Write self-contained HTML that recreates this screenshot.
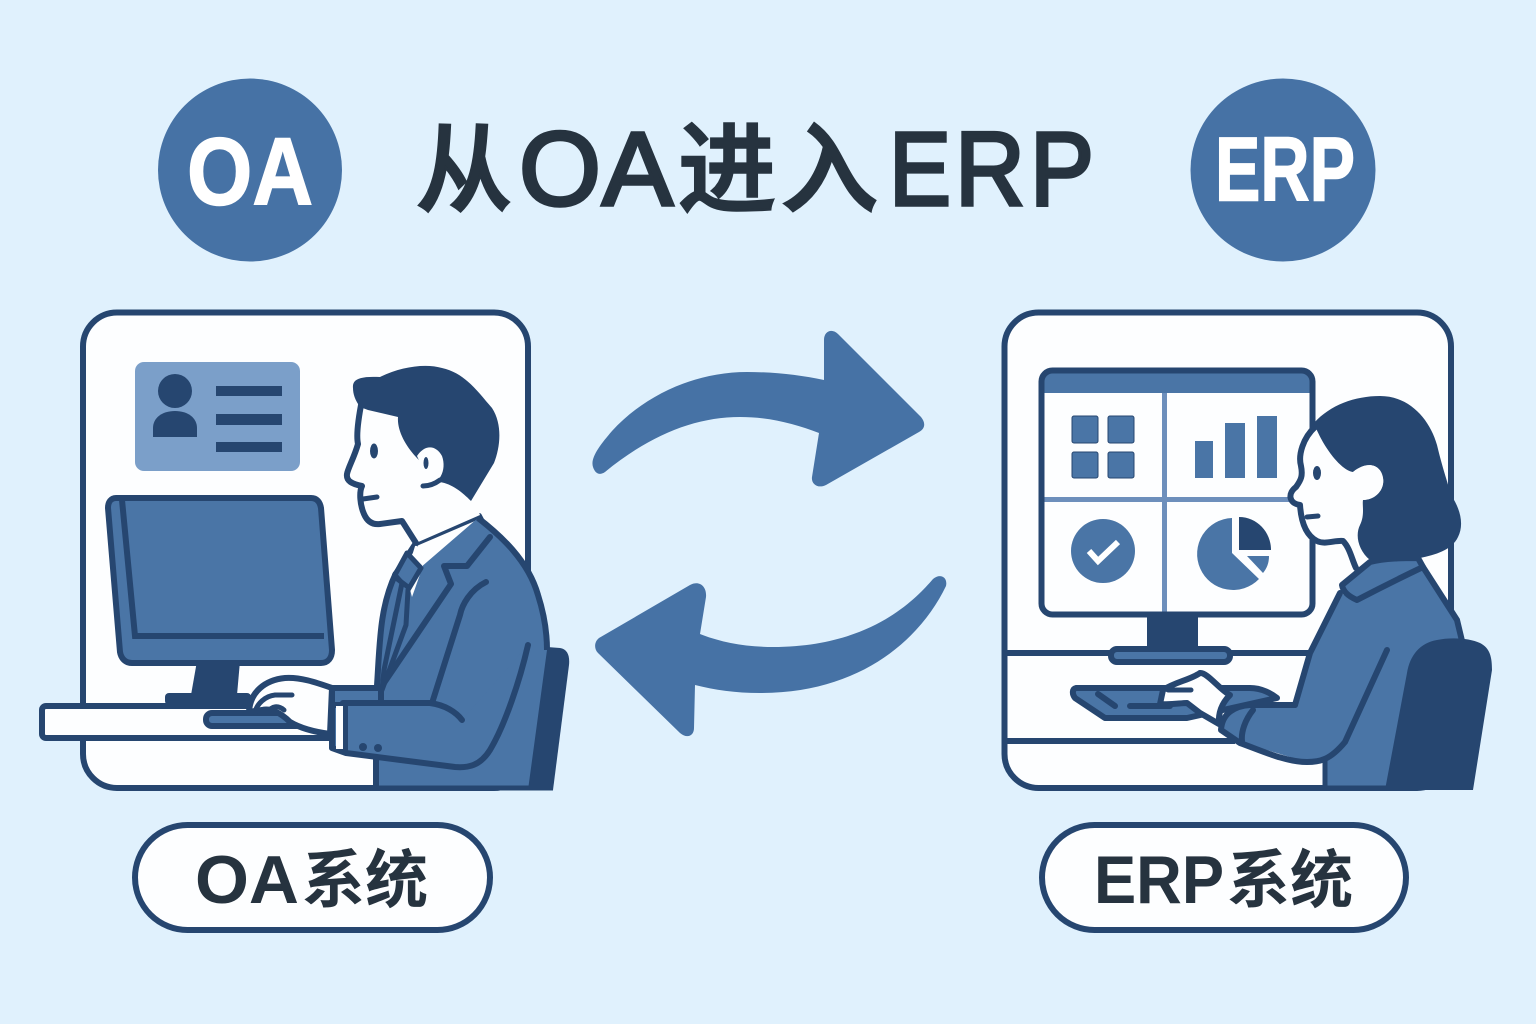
<!DOCTYPE html>
<html lang="zh"><head><meta charset="utf-8"><title>从OA进入ERP</title>
<style>html,body{margin:0;padding:0;background:#e0f1fd}svg{display:block}
.l{font-family:"Liberation Sans",sans-serif}.c{font-family:"Liberation Sans","Noto Sans CJK SC",sans-serif}</style></head>
<body>
<svg width="1536" height="1024" viewBox="0 0 1536 1024" xmlns="http://www.w3.org/2000/svg">
<rect width="1536" height="1024" fill="#e0f1fd"/>
<!-- header -->
<ellipse cx="250" cy="170" rx="92" ry="91.500" fill="#4672a5"/>
<ellipse cx="1283" cy="170" rx="92.500" ry="91.500" fill="#4672a5"/>
<text class="l" x="187" y="204.500" font-size="96" font-weight="700" fill="#fff" stroke="#fff" stroke-width="1.500" textLength="126" lengthAdjust="spacingAndGlyphs">OA</text>
<text class="l" x="1215" y="200.500" font-size="91" font-weight="700" fill="#fff" stroke="#fff" stroke-width="1.500" textLength="140" lengthAdjust="spacingAndGlyphs">ERP</text>
<g fill="#26333f" stroke="#26333f">
<g stroke-width="2.500">
<text class="c" x="416" y="204" font-size="96" font-weight="500">从</text>
<text class="c" x="678" y="204" font-size="98" font-weight="500">进</text>
<text class="c" x="781" y="204" font-size="97" font-weight="500">入</text>
</g>
<g class="l" font-size="105" stroke-width="3.500">
<text x="519" y="205" textLength="82" lengthAdjust="spacingAndGlyphs">O</text>
<text x="602" y="205" textLength="71" lengthAdjust="spacingAndGlyphs">A</text>
<text x="889" y="205" textLength="62" lengthAdjust="spacingAndGlyphs">E</text>
<text x="955" y="205" textLength="70" lengthAdjust="spacingAndGlyphs">R</text>
<text x="1030" y="205" textLength="64" lengthAdjust="spacingAndGlyphs">P</text>
</g></g>
<!-- arrows -->
<g fill="#4672a5">
<path d="M593,467C590,458 600,445 612,431C645,395 695,372 747,372C775,372 800,375 824,380L824,340C824,331 832,328 838,334L921,417C926,423 925,429 919,432L826,485C818,489 811,484 812,477L819,433C795,424 770,417 740,417C695,417 650,435 605,472C599,476 595,473 593,467Z"/>
<path d="M946,586C948,577 940,573 933,579C915,600 870,647 773,647C745,647 720,642 700,634L706,597C707,586 699,580 690,585L599,638C594,642 594,649 598,653L680,733C687,739 694,736 694,728L695,685C715,690 735,693 760,693C860,693 920,640 946,586Z"/>
</g>
<!-- pills -->
<rect x="135" y="825" width="355" height="105" rx="52.500" fill="#fdfeff" stroke="#264670" stroke-width="6"/>
<rect x="1042" y="825" width="364" height="105" rx="52.500" fill="#fdfeff" stroke="#264670" stroke-width="6"/>
<g fill="#26333f" font-weight="700">
<text class="l" x="195" y="903" font-size="68" textLength="104" lengthAdjust="spacingAndGlyphs">OA</text>
<text class="l" x="1094" y="903" font-size="68" textLength="130" lengthAdjust="spacingAndGlyphs">ERP</text>
<text class="c" x="302" y="902" font-size="63">系统</text>
<text class="c" x="1227" y="902" font-size="63">系统</text>
</g>
<!-- left panel -->
<rect x="83" y="312.500" width="445" height="475.500" rx="34" fill="#fdfeff" stroke="#264670" stroke-width="6"/>
<rect x="135" y="362" width="165" height="109" rx="9" fill="#7b9fc9"/>
<g fill="#264670">
<circle cx="175" cy="391" r="17"/>
<path d="M153,437V428C153,418 162,411 175,411C188,411 197,418 197,428V437Z"/>
<rect x="216" y="386" width="66" height="10"/><rect x="216" y="414" width="66" height="11"/><rect x="216" y="442" width="66" height="10"/>
<path d="M197,661H240L237,695H191Z"/>
<rect x="165" y="693" width="86" height="12" rx="4"/>
</g>
<path d="M116,498H311C317,498 320,502 321,508L332,650C332,658 328,663 321,663H132C125,663 121,658 120,652L108,508C108,502 111,498 116,498Z" fill="#4a75a6" stroke="#264670" stroke-width="6" stroke-linejoin="round"/>
<path d="M122,500L135,636H324" fill="none" stroke="#264670" stroke-width="6"/>
<rect x="42" y="706" width="300" height="32" rx="4" fill="#fdfeff" stroke="#264670" stroke-width="6"/>
<rect x="206" y="713" width="96" height="13" rx="6" fill="#4a75a6" stroke="#264670" stroke-width="6"/>
<!-- chair left -->
<path d="M547,647L560,648C567,649 570,655 569,665L553,790H526Z" fill="#264670"/>
<!-- man body -->
<path d="M416,543L479,516L490,537L424,620L395,640V575Z" fill="#fdfeff" stroke="#264670" stroke-width="6" stroke-linejoin="round"/>
<path d="M376,790V700C378,650 378,610 396,573L407,553L420,568L478,518C500,535 528,560 538,595C546,620 547,640 547,650L528,790Z" fill="#4a75a6"/>
<path d="M376,788V700C380,650 378,610 396,573" fill="none" stroke="#264670" stroke-width="6"/>
<path d="M478,518C500,535 528,560 538,595C546,620 547,640 547,650" fill="none" stroke="#264670" stroke-width="6"/>
<path d="M376,788H553" stroke="#264670" stroke-width="5"/>
<path d="M416,543C435,530 460,520 479,516" fill="none" stroke="#264670" stroke-width="6"/>
<path d="M416,543L423,566L412,597L406,575Z" fill="#fdfeff"/>
<path d="M407,553L395,575L402,583L384,670L382,690L406,625L408,590L421,568Z" fill="#4a75a6" stroke="#264670" stroke-width="5" stroke-linejoin="round"/>
<path d="M396,578L408,587" stroke="#264670" stroke-width="5"/>
<path d="M490,537L467,566L444,566L451,584L384,683" fill="none" stroke="#264670" stroke-width="6" stroke-linejoin="round" stroke-linecap="round"/>
<path d="M486,582C470,590 462,605 460,615L433,700" fill="none" stroke="#264670" stroke-width="6" stroke-linecap="round"/>
<path d="M332,688H381V705H332Z" fill="#4a75a6" stroke="#264670" stroke-width="6"/>
<!-- arm -->
<path d="M346,705L440,705C450,708 458,714 462,720L528,645C525,680 505,730 490,750C480,765 470,768 460,767L346,753L333,748V706Z" fill="#4a75a6"/>
<path d="M343,703H430C445,705 456,712 462,720" fill="none" stroke="#264670" stroke-width="6" stroke-linecap="round"/>
<path d="M528,645C520,680 505,725 490,750C480,766 468,768 455,767L346,753L332,748V705H345V752" fill="none" stroke="#264670" stroke-width="6" stroke-linecap="round" stroke-linejoin="round"/>
<rect x="336" y="706" width="7" height="43" fill="#fdfeff"/>
<circle cx="363" cy="747" r="4" fill="#264670"/><circle cx="378" cy="748" r="4" fill="#264670"/>
<!-- hand -->
<path d="M332,688C315,682 300,677 285,678C265,680 250,692 249,712L262,710C270,708 280,712 290,722C300,728 315,732 330,734Z" fill="#fdfeff" stroke="#264670" stroke-width="6" stroke-linejoin="round"/>
<path d="M292,695H275C265,696 257,704 255,712M268,712C272,706 278,705 284,710" fill="none" stroke="#264670" stroke-width="5" stroke-linecap="round"/>
<!-- head -->
<path d="M362,400L358,444L347,474C346,481 352,484 362,486L360,501C362,515 367,523 376,524L402,521L416,543L480,515L470,490L470,430L400,400Z" fill="#fdfeff"/>
<path d="M362,400C358,420 356,435 358,444C354,458 348,468 347,474C346,481 352,484 362,486C359,492 360,505 364,514C367,521 372,525 380,524L402,521L416,543" fill="none" stroke="#264670" stroke-width="6" stroke-linejoin="round" stroke-linecap="round"/>
<path d="M353,388C352,379 360,376 380,377C400,367 425,363 442,368C465,373 478,392 492,408C503,425 500,448 494,463L471,501C462,492 452,484 440,482L416,457C405,445 397,430 398,417L368,410L360,407C355,400 353,394 353,388Z" fill="#264670"/>
<path d="M423,486C440,486 447,470 442,456C436,445 425,444 417,456L428,480Z" fill="#fdfeff"/>
<path d="M423,486C430,486 436,483 440,480" fill="none" stroke="#264670" stroke-width="5" stroke-linecap="round"/>
<ellipse cx="374" cy="451" rx="4" ry="7.500" fill="#264670"/>
<ellipse cx="426" cy="463" rx="2.500" ry="6" fill="#264670"/>
<path d="M363,499L377,497" stroke="#264670" stroke-width="5" stroke-linecap="round"/>
<!-- right panel -->
<rect x="1004.500" y="312.500" width="446.500" height="475.500" rx="34" fill="#fdfeff" stroke="#264670" stroke-width="6"/>
<path d="M1006,653H1310M1006,741H1235" stroke="#264670" stroke-width="6"/>
<rect x="1147" y="613" width="51" height="38" fill="#264670"/>
<rect x="1111" y="649" width="119" height="13" rx="6" fill="#4a75a6" stroke="#264670" stroke-width="6"/>
<rect x="1041" y="370" width="271" height="244" rx="11" fill="#fdfeff"/>
<path d="M1043,393V381C1043,376 1047,373 1052,373H1302C1307,373 1310,376 1310,381V393Z" fill="#4a75a6"/>
<path d="M1164.500,393V612M1042,499.500H1310" stroke="#6d8fbc" stroke-width="5"/>
<rect x="1041.500" y="370.500" width="271" height="244" rx="11" fill="none" stroke="#264670" stroke-width="6"/>
<g fill="#4a75a6" stroke="#264670" stroke-width="1">
<rect x="1072" y="416" width="26" height="27" rx="2"/><rect x="1108" y="416" width="26" height="27" rx="2"/>
<rect x="1072" y="452" width="26" height="26" rx="2"/><rect x="1108" y="452" width="26" height="26" rx="2"/>
</g>
<g fill="#4a75a6">
<rect x="1195" y="441" width="18" height="37"/><rect x="1225" y="423" width="20" height="55"/><rect x="1257" y="416" width="20" height="62"/>
<circle cx="1103" cy="551" r="32"/>
<path d="M1232,518A36,36 0 1 0 1259,579L1232,553Z"/>
<path d="M1247,556H1269C1269,563 1267,568 1263,573Z"/>
</g>
<path d="M1089,551L1098,561L1118,542" fill="none" stroke="#fff" stroke-width="6"/>
<path d="M1239,517C1257,517 1271,532 1271,550H1239Z" fill="#264670"/>
<!-- keyboard right -->
<path d="M1076,688H1250C1262,688 1272,694 1277,698L1187,718H1105L1075,698C1072,694 1072,689 1076,688Z" fill="#4a75a6" stroke="#264670" stroke-width="6" stroke-linejoin="round"/>
<path d="M1098,694L1115,706M1130,706H1170" stroke="#264670" stroke-width="6" stroke-linecap="round"/>
<!-- chair right + woman body -->
<path d="M1340,593L1310,653L1295,705H1250C1235,706 1222,713 1221,730L1237,741L1300,760L1325,760V788H1395L1425,700L1460,640L1457,620L1423,567L1357,600Z" fill="#4a75a6"/>
<path d="M1340,593L1310,653L1295,705" fill="none" stroke="#264670" stroke-width="6" stroke-linecap="round"/>
<path d="M1423,567L1457,620L1463,645" fill="none" stroke="#264670" stroke-width="6"/>
<path d="M1325,760V788H1395" fill="none" stroke="#264670" stroke-width="5"/>
<path d="M1385,790L1407,673C1410,655 1420,643 1437,640C1450,637 1470,638 1480,643C1490,648 1492,657 1492,670L1473,790Z" fill="#264670"/>
<path d="M1387,650L1345,742C1330,760 1320,762 1307,762C1285,762 1260,750 1240,743M1295,705H1250C1235,706 1222,713 1221,730L1240,743M1253,710C1245,720 1241,732 1242,741" fill="none" stroke="#264670" stroke-width="6" stroke-linecap="round" stroke-linejoin="round"/>
<!-- hand right -->
<path d="M1163,690C1175,682 1190,680 1200,673C1207,672 1220,690 1230,695C1222,703 1218,712 1219,724L1200,713L1187,703C1180,703 1172,705 1160,704Z" fill="#fdfeff" stroke="#264670" stroke-width="6" stroke-linejoin="round"/>
<path d="M1168,690H1191" stroke="#264670" stroke-width="5" stroke-linecap="round"/>
<!-- woman head -->
<path d="M1315,425L1300,450L1305,477L1289,497L1300,505L1302,523L1317,543L1343,542L1357,580L1420,560L1400,470L1350,420Z" fill="#fdfeff"/>
<path d="M1315,427C1303,438 1298,455 1301,466C1303,476 1301,480 1296,487C1288,493 1288,503 1300,505C1301,520 1305,535 1317,541C1325,545 1335,540 1343,541C1350,548 1352,560 1356,568" fill="none" stroke="#264670" stroke-width="6" stroke-linecap="round" stroke-linejoin="round"/>
<path d="M1314,423C1330,405 1355,396 1380,396C1410,396 1430,420 1437,445C1443,470 1447,480 1451,495C1461,510 1464,525 1458,537C1452,550 1435,555 1420,558L1370,560C1358,550 1355,535 1360,525C1365,515 1362,505 1363,500C1375,500 1385,490 1383,478C1381,465 1368,460 1353,472C1340,470 1322,445 1314,423Z" fill="#264670"/>
<path d="M1353,472C1368,460 1381,465 1383,478C1385,490 1375,500 1363,500Z" fill="#fdfeff"/>
<ellipse cx="1317" cy="473" rx="4" ry="7" fill="#264670"/>
<path d="M1307,517L1318,516" stroke="#264670" stroke-width="5" stroke-linecap="round"/>
<!-- collar -->
<path d="M1342,585L1370,562C1385,558 1405,558 1418,558L1423,567C1400,578 1380,588 1357,600C1350,597 1343,592 1342,585Z" fill="#4a75a6" stroke="#264670" stroke-width="6" stroke-linejoin="round"/>
</svg>
</body></html>
